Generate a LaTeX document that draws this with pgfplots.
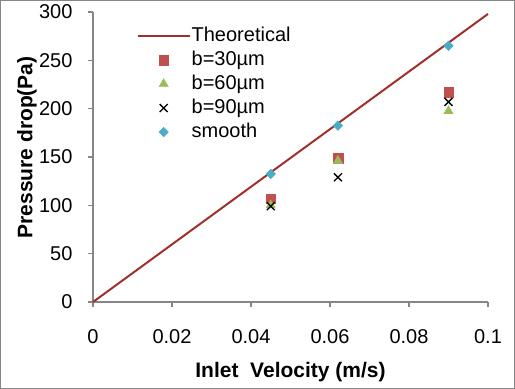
\documentclass[border=0pt]{standalone}
\usepackage{pgfplots}
\pgfplotsset{compat=1.18}
\usepackage{fontspec}
\setmainfont{Liberation Sans}
\definecolor{theo}{RGB}{160,48,45}
\definecolor{b30}{RGB}{192,80,77}
\definecolor{b60}{RGB}{155,187,89}
\definecolor{smoothc}{RGB}{75,172,198}
\definecolor{axgray}{RGB}{134,134,134}
\newcommand{\chartfont}{\fontsize{20bp}{24bp}\selectfont}
\newcommand{\labelfont}{\fontsize{21bp}{25bp}\selectfont\bfseries}
\pgfplotsset{
  legline/.style={legend image code/.code={\draw[##1] (0bp,0bp) -- (52bp,0bp);}},
  legmark/.style={legend image code/.code={\draw[mark repeat=2,mark phase=2,##1] plot coordinates {(0bp,0bp) (26bp,0bp) (52bp,0bp)};}},
}
\begin{document}
\begin{tikzpicture}
\begin{axis}[
  scale only axis,
  width=395bp, height=290bp,
  xmin=0, xmax=0.1, ymin=0, ymax=300,
  axis lines*=left,
  axis line style={axgray, line width=1.2bp},
  every tick/.style={axgray, line width=1.2bp},
  tick align=outside,
  major tick length=5bp,
  xtick={0,0.02,0.04,0.06,0.08,0.1},
  xticklabels={0,0.02,0.04,0.06,0.08,0.1},
  ytick={0,50,100,150,200,250,300},
  scaled x ticks=false,
  /pgf/number format/assume math mode=true,
  tick label style={font=\chartfont},
  xticklabel style={yshift=-19bp},
  yticklabel style={xshift=-12bp},
  xlabel={Inlet~~Velocity (m/s)},
  ylabel={Pressure drop(Pa)},
  every axis x label/.style={at={(axis description cs:0.5,-0.243)}, anchor=center, font=\labelfont},
  every axis y label/.style={at={(axis description cs:-0.167,0.533)}, rotate=90, anchor=center, font=\labelfont},
  legend style={at={(axis description cs:0.11,0.954)}, anchor=north west, draw=none, fill=none,
    font=\chartfont, inner sep=0pt, row sep=3bp,
    nodes={inner sep=1bp, text height=15bp, text depth=4bp}},
  legend cell align=left,
  clip=false,
]
\addplot[theo, line width=2bp, no marks, legline]
  coordinates {(0,0) (0.1,298)};
\addlegendentry{Theoretical}
\addplot[only marks, mark=square*, mark size=4.8bp, mark options={draw=b30, fill=b30}, legmark]
  coordinates {(0.045,107) (0.062,148.5) (0.09,217)};
\addlegendentry{b=30µm}
\addplot[only marks, mark=triangle*, mark size=5.4bp, mark options={draw=b60, fill=b60}, legmark]
  coordinates {(0.045,100) (0.062,146) (0.09,197.5)};
\addlegendentry{b=60µm}
\addplot[only marks, mark=x, mark size=5.6bp, mark options={draw=black, line width=1.3bp}, legmark]
  coordinates {(0.045,99) (0.062,129) (0.09,207)};
\addlegendentry{b=90µm}
\addplot[only marks, mark=square*, mark size=3.4bp, mark options={draw=smoothc, fill=smoothc, rotate=45}, legmark]
  coordinates {(0.045,132.5) (0.062,182.5) (0.09,265)};
\addlegendentry{smooth}
\end{axis}
\draw[axgray, line width=1bp] (-92.5bp,-86bp) rectangle (421.5bp,301.5bp);
\end{tikzpicture}
\end{document}
